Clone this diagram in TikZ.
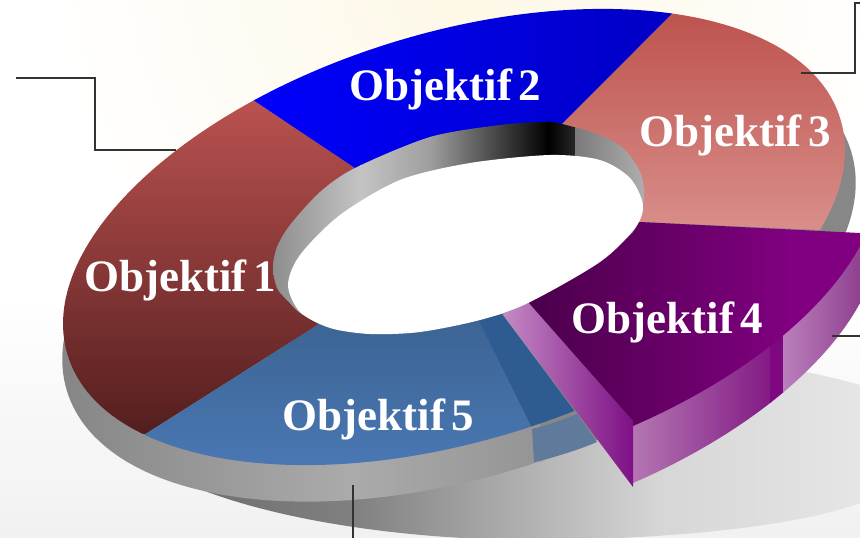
\documentclass[tikz,border=0pt]{standalone}
\usepackage{fontspec}
\setmainfont{Liberation Serif}[WordSpace=0.6]
\begin{document}
\begin{tikzpicture}[x=1pt,y=-1pt,
  outerE/.style={shift={(454,237)},rotate=17},
  wallE/.style={shift={(459,271)},rotate=17},
  wedgeE/.style={shift={(489,262)},rotate=17},
  wedgeLow/.style={shift={(489,319)},rotate=17},
  label/.style={text=white,font=\fontsize{45}{49}\selectfont\bfseries,anchor=base,inner sep=0pt},
  leader/.style={draw=black!80,line width=1.4pt}]
\useasboundingbox (0,0) rectangle (860,538);
\clip (0,0) rectangle (860,538);
% background
\fill[white] (0,0) rectangle (860,538);
\shade[inner color={rgb,255:red,253;green,247;blue,229},outer color=white] (470,-30) circle [radius=420pt];
\shade[top color=white,bottom color=black!6,opacity=.9] (0,300) rectangle (860,538);
% ground shadow
\begin{scope}
\clip (190,485) .. controls (260,515) and (380,538) .. (520,540) .. controls (680,540) and (800,525) .. (860,503) -- (860,385) .. controls (810,370) and (720,355) .. (600,355) -- (300,400) -- cycle;
\shade[left color=black!58,right color=black!50] (150,340) rectangle (350,545);
\shade[left color=black!50,right color=black!16] (350,340) rectangle (660,545);
\shade[left color=black!16,right color=black!10] (660,340) rectangle (860,545);
\end{scope}
% donut side wall
\begin{scope}
\clip[wallE] (0,0) ellipse [x radius=410pt,y radius=206pt];
\shade[left color=black!48,right color=black!33] (50,120) rectangle (352,520);
\shade[left color=black!33,right color=black!42] (351,120) rectangle (541,520);
\fill[black!47] (540,50) rectangle (870,520);
\end{scope}
% top surface
\begin{scope}
\clip[outerE] (0,0) ellipse [x radius=404pt,y radius=204pt];
\begin{scope}
\clip (355,168) -- (151,32) -- (-30,32) -- (-30,540) -- (-22,540) -- (316,326) -- (400,250) -- cycle;
\shade[shading angle=-18,top color={rgb,255:red,186;green,82;blue,80},bottom color={rgb,255:red,84;green,30;blue,30}] (60,100) rectangle (360,433);
\end{scope}
\begin{scope}
\clip (355,168) -- (100,-2) -- (780,-94) -- (562,124) -- (480,200) -- cycle;
\shade[left color={rgb,255:red,0;green,0;blue,255},right color={rgb,255:red,0;green,0;blue,195}] (240,-10) rectangle (680,190);
\end{scope}
\begin{scope}
\clip (562,124) -- (780,-94) -- (900,-94) -- (900,234) -- (820,230) -- (640,222) -- (500,200) -- cycle;
\shade[top color={rgb,255:red,189;green,82;blue,77},bottom color={rgb,255:red,217;green,143;blue,139}] (540,10) rectangle (870,232);
\end{scope}
\begin{scope}
\clip (316,326) -- (-22,540) -- (580,540) -- (533,430) -- (478,320) -- (400,260) -- cycle;
\shade[top color={rgb,255:red,60;green,100;blue,148},bottom color={rgb,255:red,74;green,120;blue,180}] (100,320) rectangle (600,470);
\end{scope}
\fill[fill={rgb,255:red,46;green,92;blue,146}] (478,320) -- (533,430) -- (540,450) -- (600,445) -- (502,314) -- cycle;
\end{scope}
% shadow of the wedge on the wall
\fill[fill={rgb,255:red,95;green,122;blue,154}] (532,429) .. controls (548,425) and (563,420) .. (577,414) -- (597,442) .. controls (578,450) and (556,457) .. (534,462) -- cycle;
% wedge walls
\begin{scope}
\clip[wedgeLow] (0,0) ellipse [x radius=404pt,y radius=204pt];
\begin{scope}
\clip (633,240) rectangle (860,500);
\shade[left color={rgb,255:red,180;green,118;blue,178},right color={rgb,255:red,130;green,26;blue,132}] (633,240) rectangle (771,500);
\fill[fill={rgb,255:red,127;green,8;blue,128}] (770,240) rectangle (784,500);
\shade[left color={rgb,255:red,186;green,128;blue,187},right color={rgb,255:red,143;green,63;blue,144}] (783,240) rectangle (861,500);
\end{scope}
\end{scope}
\begin{scope}
\clip (503,314) -- (529,303) -- (633,421) -- (633,487) -- cycle;
\shade[left color={rgb,255:red,196;green,138;blue,196},right color={rgb,255:red,125;green,16;blue,133}] (503,300) rectangle (633,490);
\end{scope}
% wedge top
\begin{scope}
\clip[wedgeE] (0,0) ellipse [x radius=404pt,y radius=204pt];
\clip (560,230) -- (640,222) -- (900,235) -- (900,500) -- (633,500) -- (633,421) -- (529,303) -- cycle;
\shade[left color={rgb,255:red,74;green,0;blue,74},right color={rgb,255:red,128;green,0;blue,128}] (525,215) rectangle (790,440);
\fill[fill={rgb,255:red,128;green,0;blue,128}] (789,215) rectangle (870,440);
\end{scope}
% hole: inner wall and opening
\begin{scope}
\clip plot[smooth cycle] coordinates {(287,300) (277,288) (273,268) (277,247) (290,225) (320,192) (355,168) (430,137) (500,125) (545,122) (562,124) (600,135) (625,150) (640,172) (644,190) (643,205) (630,235) (560,285) (450,325) (350,330) (305,316)};
\shade[left color=black!45,right color=black!23] (270,100) rectangle (361,340);
\shade[left color=black!23,right color=black!38] (360,100) rectangle (431,340);
\shade[left color=black!38,right color=black] (430,100) rectangle (549,340);
\shade[left color=black,right color=black!85] (548,100) rectangle (575,340);
\shade[left color=black!52,right color=black!30] (575,100) rectangle (650,340);
\end{scope}
\fill[white] plot[smooth cycle] coordinates {(288,285) (300,255) (340,215) (400,180) (470,163) (550,155) (600,160) (630,178) (643,205) (635,228) (600,262) (528,303) (480,320) (420,332) (370,334) (330,328) (300,312)};
% labels
\node[label] (obj1) at (180,291) {Objektif 1};
\node[label] (obj2) at (445.5,100) {Objektif 2};
\node[label] (obj3) at (735,146) {Objektif 3};
\node[label] (obj4) at (667.5,333) {Objektif 4};
\node[label] (obj5) at (378.5,430) {Objektif 5};
% leaders
\coordinate (la1) at (16,78); \coordinate (la2) at (95,78); \coordinate (la3) at (95,150); \coordinate (la4) at (176,150);
\draw[leader] (la1) -- (la2) -- (la3) -- (la4);
\coordinate (lb1) at (801,73); \coordinate (lb2) at (855,73); \coordinate (lb3) at (855,3); \coordinate (lb4) at (860,3);
\draw[leader] (lb1) -- (lb2) -- (lb3) -- (lb4);
\coordinate (lc1) at (832,336); \coordinate (lc2) at (860,336);
\draw[leader] (lc1) -- (lc2);
\coordinate (ld1) at (353,485); \coordinate (ld2) at (353,538);
\draw[leader] (ld1) -- (ld2);
\end{tikzpicture}
\end{document}
